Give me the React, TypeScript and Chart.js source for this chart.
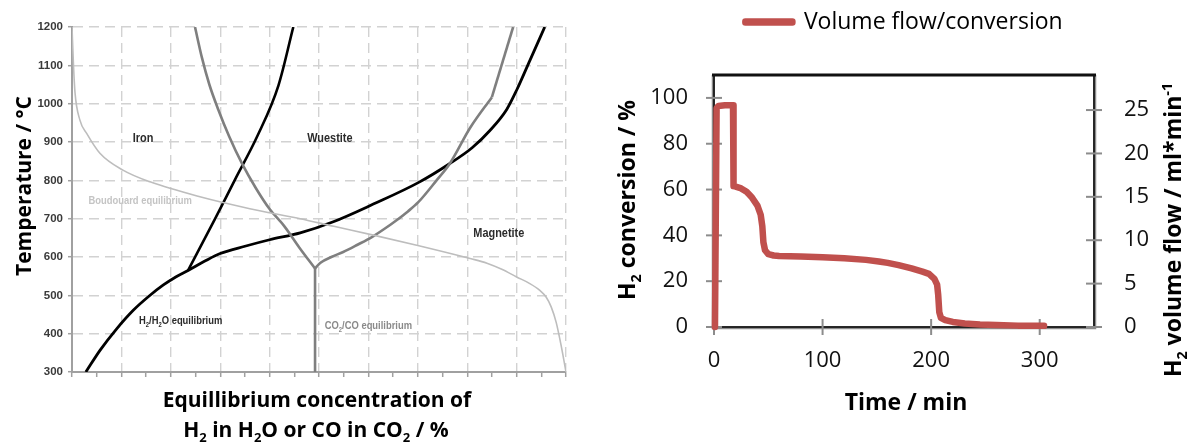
import React, { useEffect, useRef } from 'react';
import { Chart, registerables } from 'chart.js';

Chart.register(...registerables);

// ================= Left panel: equilibrium diagram =================
// x: equilibrium concentration (%), y: temperature (°C)
const h2MagWusX = [2.8, 5.7, 9, 12.4, 15.5, 18.5, 21, 23.5, 27, 30, 35, 40, 46.2, 52.9, 61, 70.1, 76.5, 81, 84.6, 88, 90, 92.7, 95.7];
const h2MagWusT = [300, 357, 412, 461, 497, 527, 548, 565, 590, 609, 628, 645, 663, 692, 738, 794, 844, 885, 930, 985, 1035, 1113, 1200];

const h2WusFeX = [23.5, 28.9, 33, 37.5, 41.8, 44.8];
const h2WusFeT = [565, 698, 802, 915, 1048, 1200];

const coWusFeX = [24.9, 26.3, 27.8, 29.6, 31.8, 34.4, 37.2, 40, 43, 46, 49.2];
const coWusFeT = [1200, 1120, 1050, 985, 915, 844, 780, 725, 680, 625, 570];

const coMagFeX = [49.2, 49.2];
const coMagFeT = [570, 300];

const coMagWusX = [49.2, 50.3, 52.5, 54.9, 57.8, 60.7, 63.2, 65.7, 68, 70.1, 73.8, 76.5, 80.6, 85];
const coMagWusT = [570, 585, 600, 613, 632, 652, 673, 696, 719, 743, 800, 844, 937, 1017];
const coMagWusHighX = [85, 89.3];
const coMagWusHighT = [1017, 1200];

const boudouardX = [0, 0.3, 0.6, 1.6, 3, 5.7, 10.4, 15.8, 25.9, 36, 46.2, 53, 61, 70, 80.6, 84, 87, 90, 92.5, 94.7, 96, 97, 98, 99, 100];
const boudouardT = [1200, 1100, 1030, 957, 922, 870, 826, 796, 757, 726, 700, 680, 657, 630, 596, 584, 568, 548, 532, 513, 495, 470, 430, 370, 300];

// ================= Right panel: H2 conversion vs time =================
const timeMin = [0.9, 2.4, 4, 10, 17.5, 18, 20, 25, 30, 35, 40, 43, 44.5, 45.5, 47, 50, 55, 60, 80, 100, 120, 140, 151.8, 160, 170, 182, 192, 198, 203, 205.5, 206.5, 207.5, 209, 213, 220, 231, 245, 260, 280, 304];
const conversionPct = [0, 95.5, 96.5, 96.8, 96.8, 61.5, 61.3, 60.5, 59, 56.5, 53, 49, 44, 37, 33.5, 31.8, 31.2, 31, 30.8, 30.5, 30, 29.3, 28.6, 28, 27, 25.6, 24.2, 23.2, 21, 18.5, 14, 6.5, 4, 3, 2.2, 1.5, 1.1, 0.9, 0.6, 0.5];
const seriesLabel = 'Volume flow/conversion';

const RED = '#c0504d';
const SANS = '"Open Sans", "DejaVu Sans", sans-serif';
const ARIAL = '"Liberation Sans", Arial, sans-serif';

type Seg = { t: string; s?: 'sub' | 'sup' };

const zip = (xs: number[], ys: number[]) => xs.map((x, i) => ({ x, y: ys[i] }));

function segFont(size: number, weight: string, family: string, s?: string) {
  const fs = s ? size * 0.62 : size;
  return `${weight} ${fs}px ${family}`;
}

function drawRich(
  ctx: CanvasRenderingContext2D,
  segs: Seg[],
  cx: number,
  cy: number,
  size: number,
  weight: string,
  family: string,
  color: string,
  rot = 0,
  scaleX = 1,
) {
  ctx.save();
  ctx.translate(cx, cy);
  if (rot) ctx.rotate(rot);
  if (scaleX !== 1) ctx.scale(scaleX, 1);
  ctx.fillStyle = color;
  ctx.textBaseline = 'alphabetic';
  ctx.textAlign = 'left';
  let w = 0;
  for (const sg of segs) {
    ctx.font = segFont(size, weight, family, sg.s);
    w += ctx.measureText(sg.t).width;
  }
  let x = -w / 2;
  const base = size * 0.36;
  for (const sg of segs) {
    ctx.font = segFont(size, weight, family, sg.s);
    const dy = sg.s === 'sub' ? size * 0.25 : sg.s === 'sup' ? -size * 0.42 : 0;
    ctx.fillText(sg.t, x, base + dy);
    x += ctx.measureText(sg.t).width;
  }
  ctx.restore();
}

const leftAnnotations: { segs: Seg[]; x: number; y: number; size: number; color: string }[] = [
  { segs: [{ t: 'Iron' }], x: 14.4, y: 913, size: 13, color: '#2b2b2b' },
  { segs: [{ t: 'Wuestite' }], x: 52.2, y: 913, size: 13, color: '#2b2b2b' },
  { segs: [{ t: 'Magnetite' }], x: 86.4, y: 665, size: 13, color: '#2b2b2b' },
  { segs: [{ t: 'Boudouard equilibrium' }], x: 13.8, y: 748, size: 11.2, color: '#c4c4c4' },
  { segs: [{ t: 'H' }, { t: '2', s: 'sub' }, { t: '/H' }, { t: '2', s: 'sub' }, { t: 'O equilibrium' }], x: 22, y: 435, size: 11.2, color: '#2b2b2b' },
  { segs: [{ t: 'CO' }, { t: '2', s: 'sub' }, { t: '/CO equilibrium' }], x: 60, y: 422, size: 11.2, color: '#8a8a8a' },
];

const leftDecor = {
  id: 'leftDecor',
  afterDraw(chart: any) {
    const ctx = chart.ctx as CanvasRenderingContext2D;
    const xs = chart.scales.x;
    const ys = chart.scales.y;
    for (const a of leftAnnotations) {
      drawRich(ctx, a.segs, xs.getPixelForValue(a.x), ys.getPixelForValue(a.y), a.size, 'bold', ARIAL, a.color, 0, 0.84);
    }
    drawRich(ctx, [{ t: 'Temperature / °C' }], 23, 186, 21, 'bold', SANS, '#000', -Math.PI / 2);
    drawRich(ctx, [{ t: 'Equillibrium concentration of' }], 317, 399, 21, 'bold', SANS, '#000');
    drawRich(
      ctx,
      [{ t: 'H' }, { t: '2', s: 'sub' }, { t: ' in H' }, { t: '2', s: 'sub' }, { t: 'O or CO in CO' }, { t: '2', s: 'sub' }, { t: ' / %' }],
      316,
      429,
      21,
      'bold',
      SANS,
      '#000',
    );
  },
};

const rightDecor = {
  id: 'rightDecor',
  beforeDatasetsDraw(chart: any) {
    const ctx = chart.ctx as CanvasRenderingContext2D;
    const { left, right, top, bottom } = chart.chartArea;
    ctx.save();
    // gray axis lines (outer)
    ctx.strokeStyle = '#8c8c8c';
    ctx.lineWidth = 1.5;
    ctx.beginPath();
    ctx.moveTo(left - 1.5, top);
    ctx.lineTo(left - 1.5, bottom + 1.5);
    ctx.lineTo(right + 1.5, bottom + 1.5);
    ctx.lineTo(right + 1.5, top);
    ctx.stroke();
    // black frame
    ctx.strokeStyle = '#111';
    ctx.lineWidth = 1.8;
    ctx.strokeRect(left, top, right - left, bottom - top);
    ctx.lineWidth = 3;
    ctx.beginPath();
    ctx.moveTo(left - 2, top);
    ctx.lineTo(right + 2, top);
    ctx.stroke();
    // tick marks crossing the axes
    ctx.strokeStyle = '#8c8c8c';
    ctx.lineWidth = 2;
    const L = 8;
    for (const t of chart.scales.x.ticks) {
      const px = chart.scales.x.getPixelForValue(t.value);
      ctx.beginPath();
      ctx.moveTo(px, bottom - L);
      ctx.lineTo(px, bottom + L);
      ctx.stroke();
    }
    for (const t of chart.scales.y.ticks) {
      const py = chart.scales.y.getPixelForValue(t.value);
      ctx.beginPath();
      ctx.moveTo(left - L, py);
      ctx.lineTo(left + L, py);
      ctx.stroke();
    }
    for (const t of chart.scales.y2.ticks) {
      const py = chart.scales.y2.getPixelForValue(t.value);
      ctx.beginPath();
      ctx.moveTo(right - L, py);
      ctx.lineTo(right + L, py);
      ctx.stroke();
    }
    ctx.restore();
  },
  afterDraw(chart: any) {
    const ctx = chart.ctx as CanvasRenderingContext2D;
    const ox = 615;
    drawRich(ctx, [{ t: 'H' }, { t: '2', s: 'sub' }, { t: ' conversion / %' }], 627 - ox, 200, 23, 'bold', SANS, '#000', -Math.PI / 2);
    drawRich(
      ctx,
      [{ t: 'H' }, { t: '2', s: 'sub' }, { t: ' volume flow / ml*min' }, { t: '-1', s: 'sup' }],
      1173 - ox,
      230,
      23,
      'bold',
      SANS,
      '#000',
      -Math.PI / 2,
    );
    drawRich(ctx, [{ t: 'Time / min' }], 906 - ox, 402, 23, 'bold', SANS, '#000');
  },
};

function LeftChart() {
  const ref = useRef<HTMLCanvasElement>(null);
  useEffect(() => {
    const line = (data: any, color: string, width: number, mono = true) => ({
      data,
      borderColor: color,
      backgroundColor: color,
      borderWidth: width,
      borderJoinStyle: 'round',
      showLine: true,
      pointRadius: 0,
      cubicInterpolationMode: mono ? 'monotone' : 'default',
      tension: 0,
    });
    const chart = new Chart(ref.current as HTMLCanvasElement, {
      type: 'scatter',
      data: {
        datasets: [
          line(zip(boudouardX, boudouardT), '#bdbdbd', 1.6),
          line(zip(coMagFeX, coMagFeT), '#7f7f7f', 2.6, false),
          line(zip([...coWusFeX].reverse(), [...coWusFeT].reverse()), '#7f7f7f', 2.6),
          line(zip(coMagWusX, coMagWusT), '#7f7f7f', 2.6),
          line(zip(coMagWusHighX, coMagWusHighT), '#7f7f7f', 2.6, false),
          line(zip(h2WusFeX, h2WusFeT), '#000', 2.6),
          line(zip(h2MagWusX, h2MagWusT), '#000', 2.8),
        ] as any,
      },
      options: {
        responsive: false,
        animation: false,
        devicePixelRatio: 1,
        layout: { padding: { left: 0, right: 34, top: 27, bottom: 0 } },
        plugins: { legend: { display: false }, tooltip: { enabled: false } },
        scales: {
          x: {
            type: 'linear',
            min: 0,
            max: 100,
            afterFit: (s: any) => {
              s.height = 72;
            },
            ticks: { display: false, stepSize: 5 },
            grid: {
              color: (c: any) => (c.tick && c.tick.value % 10 === 0 && c.tick.value > 0 ? '#d2d2d2' : 'rgba(0,0,0,0)'),
              lineWidth: 1.4,
              drawTicks: true,
              tickLength: 5,
              tickColor: '#a0a0a0',
              tickWidth: 1.5,
            },
            border: { color: '#a0a0a0', width: 2, dash: [10, 6] },
          },
          y: {
            type: 'linear',
            min: 300,
            max: 1200,
            afterFit: (s: any) => {
              s.width = 72;
            },
            ticks: {
              stepSize: 100,
              padding: 5,
              color: '#3a3a3a',
              font: { family: ARIAL, size: 11.5, weight: 'bold' },
              callback: (v: any) => String(v),
            },
            grid: {
              color: (c: any) => (c.tick && c.tick.value > 300 ? '#d2d2d2' : 'rgba(0,0,0,0)'),
              lineWidth: 1.4,
              drawTicks: true,
              tickLength: 4,
              tickColor: '#a0a0a0',
              tickWidth: 1.5,
            },
            border: { color: '#a0a0a0', width: 2, dash: [10, 6] },
          },
        },
      } as any,
      plugins: [leftDecor],
    });
    return () => chart.destroy();
  }, []);
  return <canvas ref={ref} width={600} height={444} style={{ position: 'absolute', left: 0, top: 0, width: 600, height: 444 }} />;
}

function RightChart() {
  const ref = useRef<HTMLCanvasElement>(null);
  useEffect(() => {
    const chart = new Chart(ref.current as HTMLCanvasElement, {
      type: 'scatter',
      data: {
        datasets: [
          {
            label: seriesLabel,
            data: zip(timeMin, conversionPct),
            borderColor: RED,
            backgroundColor: RED,
            borderWidth: 6.5,
            borderJoinStyle: 'round',
            borderCapStyle: 'round',
            showLine: true,
            pointRadius: 0,
            tension: 0,
            clip: false,
            yAxisID: 'y',
          },
        ] as any,
      },
      options: {
        responsive: false,
        animation: false,
        devicePixelRatio: 1,
        layout: { padding: { left: 0, right: 0, top: 0, bottom: 0 } },
        plugins: {
          tooltip: { enabled: false },
          legend: {
            display: true,
            position: 'top',
            weight: 3000,
            labels: {
              boxWidth: 47,
              boxHeight: 1,
              padding: 10.5,
              color: '#000',
              font: { family: SANS, size: 23 },
            },
          },
          title: {
            display: true,
            text: '',
            font: { size: 10 },
            padding: { top: 10, bottom: 9.5 },
          },
        },
        scales: {
          x: {
            type: 'linear',
            min: 0,
            max: 350,
            afterFit: (s: any) => {
              s.height = 117;
            },
            ticks: { stepSize: 100, includeBounds: false, padding: 21, color: '#111', font: { family: SANS, size: 22 } },
            grid: { display: false, drawTicks: false },
            border: { display: false },
          },
          y: {
            type: 'linear',
            position: 'left',
            min: 0,
            max: 110,
            afterFit: (s: any) => {
              s.width = 99;
            },
            ticks: { stepSize: 20, includeBounds: false, padding: 26, color: '#111', font: { family: SANS, size: 22 } },
            grid: { display: false, drawTicks: false },
            border: { display: false },
          },
          y2: {
            type: 'linear',
            position: 'right',
            min: 0,
            max: 29.04,
            afterFit: (s: any) => {
              s.width = 99;
            },
            ticks: { stepSize: 5, includeBounds: false, padding: 30, color: '#111', font: { family: SANS, size: 22 } },
            grid: { display: false, drawTicks: false },
            border: { display: false },
          },
        },
      } as any,
      plugins: [rightDecor],
    });
    return () => chart.destroy();
  }, []);
  return <canvas ref={ref} width={578} height={444} style={{ position: 'absolute', left: 615, top: 0, width: 578, height: 444 }} />;
}

export default function App() {
  return (
    <div style={{ position: 'absolute', left: 0, top: 0, width: 1193, height: 444, background: '#fff', overflow: 'hidden' }}>
      <LeftChart />
      <RightChart />
    </div>
  );
}
